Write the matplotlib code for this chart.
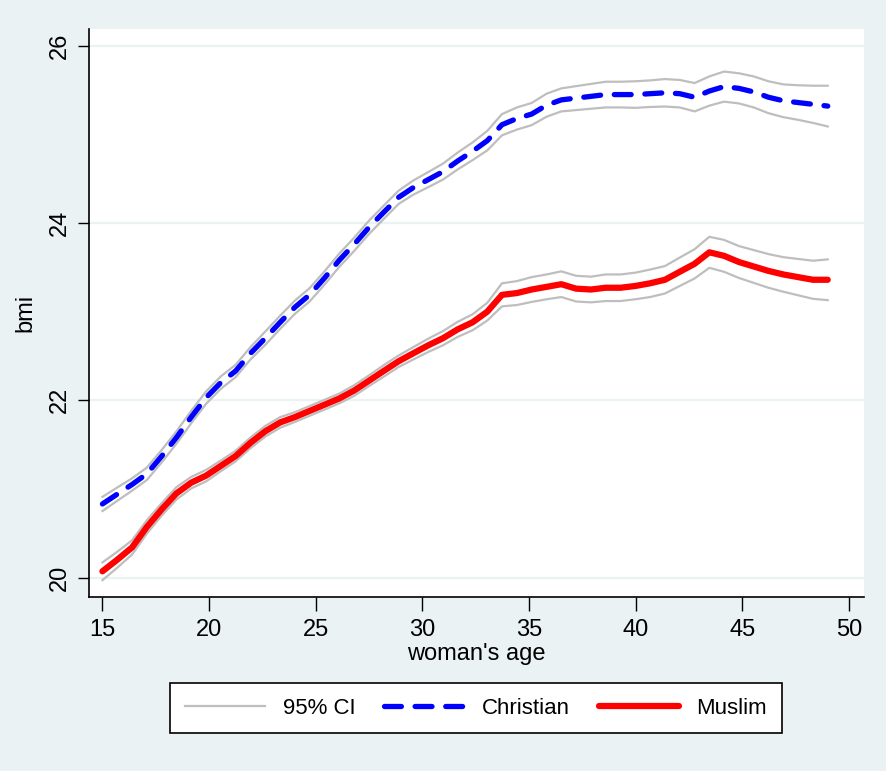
import matplotlib
matplotlib.use("Agg")
import matplotlib.pyplot as plt
from matplotlib.lines import Line2D

plt.rcParams['font.family'] = ['Liberation Sans', 'DejaVu Sans']

ages = [15.00, 15.69, 16.39, 17.08, 17.78, 18.47, 19.16, 19.86, 20.55, 21.24,
        21.94, 22.63, 23.33, 24.02, 24.71, 25.41, 26.10, 26.80, 27.49, 28.18,
        28.88, 29.57, 30.27, 30.96, 31.65, 32.35, 33.04, 33.73, 34.43, 35.12,
        35.82, 36.51, 37.20, 37.90, 38.59, 39.29, 39.98, 40.67, 41.37, 42.06,
        42.76, 43.45, 44.14, 44.84, 45.53, 46.22, 46.92, 47.61, 48.31, 49.00]

christian = [20.83, 20.94, 21.05, 21.17, 21.37, 21.58, 21.81, 22.03, 22.20, 22.33,
             22.53, 22.70, 22.88, 23.05, 23.19, 23.38, 23.58, 23.76, 23.95, 24.12,
             24.29, 24.40, 24.49, 24.58, 24.70, 24.81, 24.93, 25.11, 25.18, 25.23,
             25.33, 25.39, 25.41, 25.43, 25.45, 25.45, 25.45, 25.46, 25.47, 25.46,
             25.42, 25.49, 25.54, 25.52, 25.48, 25.42, 25.38, 25.36, 25.34, 25.32]

christian_hi = [20.91, 21.015, 21.12, 21.24, 21.44, 21.65, 21.88, 22.10, 22.27, 22.40,
                22.60, 22.775, 22.955, 23.125, 23.265, 23.455, 23.655, 23.835, 24.025, 24.195,
                24.365, 24.48, 24.575, 24.67, 24.795, 24.91, 25.04, 25.23, 25.305, 25.355,
                25.46, 25.52, 25.545, 25.57, 25.595, 25.595, 25.60, 25.61, 25.625, 25.615,
                25.58, 25.655, 25.71, 25.69, 25.655, 25.60, 25.565, 25.555, 25.55, 25.55]

christian_lo = [20.75, 20.865, 20.98, 21.10, 21.30, 21.51, 21.74, 21.96, 22.13, 22.26,
                22.46, 22.625, 22.805, 22.975, 23.115, 23.305, 23.505, 23.685, 23.875, 24.045,
                24.215, 24.32, 24.405, 24.49, 24.605, 24.71, 24.82, 24.99, 25.055, 25.105,
                25.20, 25.26, 25.275, 25.29, 25.305, 25.305, 25.30, 25.31, 25.315, 25.305,
                25.26, 25.325, 25.37, 25.35, 25.305, 25.24, 25.195, 25.165, 25.13, 25.09]

muslim = [20.07, 20.20, 20.34, 20.57, 20.77, 20.95, 21.07, 21.15, 21.26, 21.37,
          21.52, 21.65, 21.75, 21.81, 21.88, 21.95, 22.02, 22.11, 22.22, 22.33,
          22.44, 22.53, 22.62, 22.70, 22.80, 22.88, 23.00, 23.19, 23.21, 23.25,
          23.28, 23.31, 23.26, 23.25, 23.27, 23.27, 23.29, 23.32, 23.36, 23.45,
          23.54, 23.67, 23.63, 23.56, 23.51, 23.46, 23.42, 23.39, 23.36, 23.36]

muslim_hi = [20.17, 20.29, 20.42, 20.645, 20.84, 21.02, 21.135, 21.215, 21.32, 21.43,
             21.58, 21.71, 21.81, 21.865, 21.935, 22.005, 22.075, 22.17, 22.28, 22.395,
             22.505, 22.60, 22.695, 22.78, 22.885, 22.97, 23.10, 23.32, 23.345, 23.39,
             23.42, 23.455, 23.405, 23.395, 23.42, 23.42, 23.44, 23.475, 23.515, 23.61,
             23.705, 23.845, 23.81, 23.74, 23.695, 23.65, 23.615, 23.595, 23.575, 23.59]

muslim_lo = [19.97, 20.11, 20.26, 20.495, 20.70, 20.88, 21.005, 21.085, 21.20, 21.31,
             21.46, 21.59, 21.69, 21.755, 21.825, 21.895, 21.965, 22.05, 22.16, 22.265,
             22.375, 22.46, 22.545, 22.62, 22.715, 22.79, 22.90, 23.06, 23.075, 23.11,
             23.14, 23.165, 23.115, 23.105, 23.12, 23.12, 23.14, 23.165, 23.205, 23.29,
             23.375, 23.495, 23.45, 23.38, 23.325, 23.27, 23.225, 23.185, 23.145, 23.13]

x_ticks = [15, 20, 25, 30, 35, 40, 45, 50]
y_ticks = [20, 22, 24, 26]
labels = ["95% CI", "Christian", "Muslim"]

BG = "#EAF2F3"
GRAY = "#BEBEBE"

fig = plt.figure(figsize=(8.86, 7.71), dpi=100, facecolor=BG)
ax = fig.add_axes([89/886, 1 - 597/771, (864 - 89)/886, (597 - 29)/771])
ax.set_facecolor("white")

for y in y_ticks:
    ax.axhline(y, color=BG, lw=1.6, zorder=0)

ax.plot(ages, christian_hi, color=GRAY, lw=1.6, zorder=2)
ax.plot(ages, christian_lo, color=GRAY, lw=1.6, zorder=2)
ax.plot(ages, muslim_hi, color=GRAY, lw=1.6, zorder=2)
ax.plot(ages, muslim_lo, color=GRAY, lw=1.6, zorder=2)
ax.plot(ages, christian, color="#0000FF", lw=3.8, dashes=(3.2, 2.6),
        dash_capstyle="round", zorder=3)
ax.plot(ages, muslim, color="#FF0000", lw=4.5, solid_capstyle="round", zorder=3)

ax.set_xlim(14.37, 50.7)
ax.set_ylim(19.78, 26.19)
ax.set_xticks(x_ticks)
ax.set_yticks(y_ticks)
ax.tick_params(axis="x", direction="out", length=10, width=1, labelsize=17, pad=6)
ax.tick_params(axis="y", direction="out", length=8, width=1, labelsize=17, pad=5)
for lab in ax.get_yticklabels():
    lab.set_rotation(90)
    lab.set_va("center")

for s in ["top", "right"]:
    ax.spines[s].set_visible(False)
for s in ["left", "bottom"]:
    ax.spines[s].set_linewidth(1.2)
    ax.spines[s].set_color("black")

ax.set_xlabel("woman's age", fontsize=17, labelpad=1)
ax.set_ylabel("bmi", fontsize=17, labelpad=9)

handles = [
    Line2D([], [], color=GRAY, lw=1.6),
    Line2D([], [], color="#0000FF", lw=3.8, dashes=(3.2, 2.6), dash_capstyle="round"),
    Line2D([], [], color="#FF0000", lw=4.5, solid_capstyle="round"),
]
leg = fig.legend(handles, labels, loc="center", ncol=3,
                 bbox_to_anchor=(476/886, 1 - 708/771),
                 fontsize=16, frameon=True, fancybox=False, edgecolor="black",
                 framealpha=1.0,
                 handlelength=3.6, handletextpad=0.8, columnspacing=1.3,
                 borderpad=0.65)
leg.get_frame().set_linewidth(1.2)
leg.get_frame().set_facecolor("white")

fig.savefig("out.png", dpi=100, facecolor=BG)
